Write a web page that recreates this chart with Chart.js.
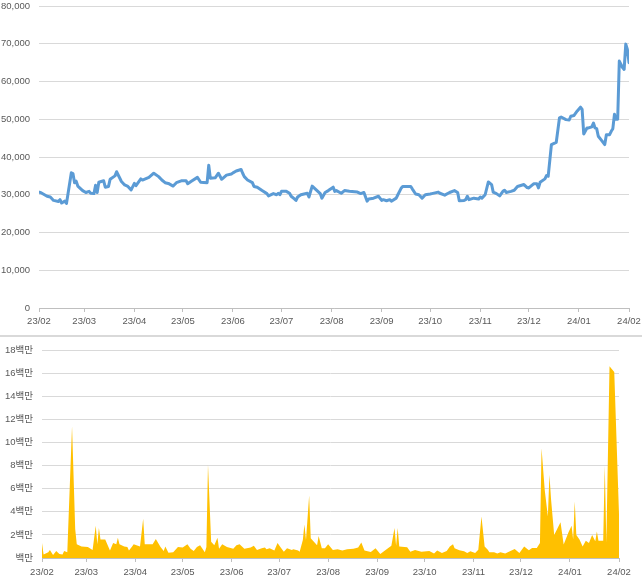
<!DOCTYPE html>
<html>
<head>
<meta charset="utf-8">
<script src="https://cdn.jsdelivr.net/npm/chart.js@4"></script>
<style>
  html, body { margin: 0; padding: 0; background: #fff; }
  #wrap { width: 642px; height: 583px; overflow: hidden; }
  canvas { display: block; }
  .sep { height: 2px; background: #d9d9d9; }
</style>
</head>
<body>
<div id="wrap">
  <canvas id="priceChart" width="642" height="335"></canvas>
  <div class="sep"></div>
  <canvas id="volumeChart" width="642" height="246"></canvas>
</div>
<script>
// 월 눈금
const monthStarts = ['2023-02-01', '2023-03-01', '2023-04-01', '2023-05-01', '2023-06-01', '2023-07-01',
    '2023-08-01', '2023-09-01', '2023-10-01', '2023-11-01', '2023-12-01', '2024-01-01', '2024-02-01'];
const monthLabels = ['23/02', '23/03', '23/04', '23/05', '23/06', '23/07',
    '23/08', '23/09', '23/10', '23/11', '23/12', '24/01', '24/02'];

// 종가
const priceDates = [
    '2023-02-01', '2023-02-02', '2023-02-06', '2023-02-08', '2023-02-10', '2023-02-13', '2023-02-14', '2023-02-15',
    '2023-02-17', '2023-02-18', '2023-02-21', '2023-02-22', '2023-02-23', '2023-02-24', '2023-02-25', '2023-02-28',
    '2023-03-02', '2023-03-04', '2023-03-05', '2023-03-07', '2023-03-08', '2023-03-09', '2023-03-10', '2023-03-13',
    '2023-03-14', '2023-03-16', '2023-03-17', '2023-03-20', '2023-03-21', '2023-03-24', '2023-03-26', '2023-03-28',
    '2023-03-30', '2023-04-01', '2023-04-02', '2023-04-05', '2023-04-06', '2023-04-10', '2023-04-13', '2023-04-16',
    '2023-04-18', '2023-04-20', '2023-04-22', '2023-04-25', '2023-04-27', '2023-04-30', '2023-05-03', '2023-05-04',
    '2023-05-06', '2023-05-10', '2023-05-12', '2023-05-16', '2023-05-17', '2023-05-18', '2023-05-21', '2023-05-23',
    '2023-05-25', '2023-05-28', '2023-05-31', '2023-06-01', '2023-06-03', '2023-06-06', '2023-06-07', '2023-06-08',
    '2023-06-10', '2023-06-13', '2023-06-14', '2023-06-16', '2023-06-19', '2023-06-22', '2023-06-23', '2023-06-26',
    '2023-06-28', '2023-06-29', '2023-06-30', '2023-07-01', '2023-07-04', '2023-07-06', '2023-07-07', '2023-07-09',
    '2023-07-10', '2023-07-11', '2023-07-13', '2023-07-15', '2023-07-17', '2023-07-18', '2023-07-20', '2023-07-22',
    '2023-07-25', '2023-07-26', '2023-07-28', '2023-07-30', '2023-08-02', '2023-08-03', '2023-08-04', '2023-08-07',
    '2023-08-09', '2023-08-12', '2023-08-17', '2023-08-19', '2023-08-21', '2023-08-23', '2023-08-24', '2023-08-27',
    '2023-08-30', '2023-09-01', '2023-09-02', '2023-09-04', '2023-09-06', '2023-09-07', '2023-09-10', '2023-09-11',
    '2023-09-13', '2023-09-14', '2023-09-19', '2023-09-20', '2023-09-22', '2023-09-24', '2023-09-26', '2023-09-28',
    '2023-10-01', '2023-10-02', '2023-10-06', '2023-10-07', '2023-10-10', '2023-10-13', '2023-10-16', '2023-10-18',
    '2023-10-19', '2023-10-22', '2023-10-23', '2023-10-24', '2023-10-25', '2023-10-28', '2023-10-31', '2023-11-01',
    '2023-11-02', '2023-11-04', '2023-11-06', '2023-11-08', '2023-11-09', '2023-11-11', '2023-11-13', '2023-11-15',
    '2023-11-16', '2023-11-17', '2023-11-20', '2023-11-22', '2023-11-24', '2023-11-28', '2023-11-30', '2023-12-01',
    '2023-12-04', '2023-12-06', '2023-12-07', '2023-12-08', '2023-12-11', '2023-12-12', '2023-12-13', '2023-12-15',
    '2023-12-17', '2023-12-18', '2023-12-20', '2023-12-21', '2023-12-24', '2023-12-26', '2023-12-27', '2023-12-29',
    '2023-12-31', '2024-01-02', '2024-01-03', '2024-01-04', '2024-01-06', '2024-01-07', '2024-01-09', '2024-01-10',
    '2024-01-11', '2024-01-12', '2024-01-13', '2024-01-15', '2024-01-17', '2024-01-18', '2024-01-20', '2024-01-21',
    '2024-01-22', '2024-01-23', '2024-01-24', '2024-01-25', '2024-01-26', '2024-01-28', '2024-01-29', '2024-01-30',
    '2024-01-31', '2024-02-01'
];
const priceValues = [
    30700, 30600, 29600, 29400, 28500, 28200, 28700, 27800,
    28300, 27700, 35800, 35600, 33200, 33600, 32300, 31100,
    30600, 30900, 30400, 30300, 32500, 30600, 33300, 33700,
    32000, 32200, 34100, 35000, 36100, 33500, 32600, 32200,
    31300, 33000, 32400, 34200, 33900, 34600, 35700, 34800,
    33900, 33200, 33000, 32300, 33200, 33700, 33700, 32900,
    33500, 34600, 33300, 33200, 37800, 34400, 34500, 35700,
    34100, 35200, 35500, 35800, 36300, 36700, 35700, 34800,
    33900, 33200, 32200, 32000, 31100, 30300, 29700, 30300,
    30000, 30400, 30000, 30900, 30900, 30400, 29600, 28900,
    28500, 29400, 30000, 30200, 30400, 29400, 32300, 31500,
    30300, 29100, 30600, 31100, 32000, 30900, 31100, 30400,
    31100, 30900, 30700, 30300, 30600, 28300, 28900, 29100,
    29600, 28500, 28700, 28400, 28700, 28300, 29100, 30000,
    31700, 32200, 32200, 31500, 30200, 30000, 29100, 30000,
    30200, 30300, 30700, 30400, 29900, 30600, 31100, 30600,
    28400, 28500, 28700, 29600, 28700, 29100, 28900, 29400,
    29100, 30000, 33400, 32700, 30700, 30300, 29700, 30900,
    31200, 30600, 30900, 31200, 32200, 32700, 31900, 31800,
    32900, 32900, 31800, 33300, 34200, 35100, 34900, 43300,
    43700, 43900, 50400, 50600, 49900, 49800, 50800, 51000,
    52200, 53200, 52600, 46100, 47700, 47700, 48000, 49000,
    47700, 47500, 45500, 44400, 43300, 45900, 45900, 46800,
    47500, 51300, 50000, 50000, 65400, 63700, 63200, 69900,
    68500, 65000
];

// 거래량
const volumeDates = [
    '2023-02-01', '2023-02-02', '2023-02-05', '2023-02-06', '2023-02-08', '2023-02-10', '2023-02-12', '2023-02-14',
    '2023-02-15', '2023-02-17', '2023-02-20', '2023-02-22', '2023-02-23', '2023-02-26', '2023-03-02', '2023-03-05',
    '2023-03-07', '2023-03-08', '2023-03-09', '2023-03-10', '2023-03-13', '2023-03-16', '2023-03-18', '2023-03-20',
    '2023-03-21', '2023-03-22', '2023-03-25', '2023-03-27', '2023-03-28', '2023-03-30', '2023-03-31', '2023-04-04',
    '2023-04-06', '2023-04-07', '2023-04-10', '2023-04-12', '2023-04-14', '2023-04-17', '2023-04-19', '2023-04-20',
    '2023-04-22', '2023-04-25', '2023-04-28', '2023-05-01', '2023-05-04', '2023-05-06', '2023-05-08', '2023-05-10',
    '2023-05-12', '2023-05-15', '2023-05-16', '2023-05-17', '2023-05-19', '2023-05-21', '2023-05-23', '2023-05-24',
    '2023-05-26', '2023-05-29', '2023-06-02', '2023-06-04', '2023-06-06', '2023-06-09', '2023-06-13', '2023-06-15',
    '2023-06-17', '2023-06-20', '2023-06-22', '2023-06-23', '2023-06-25', '2023-06-28', '2023-06-30', '2023-07-02',
    '2023-07-04', '2023-07-06', '2023-07-09', '2023-07-10', '2023-07-13', '2023-07-14', '2023-07-16', '2023-07-17',
    '2023-07-18', '2023-07-20', '2023-07-21', '2023-07-23', '2023-07-25', '2023-07-26', '2023-07-28', '2023-07-30',
    '2023-08-01', '2023-08-04', '2023-08-07', '2023-08-10', '2023-08-13', '2023-08-17', '2023-08-20', '2023-08-22',
    '2023-08-24', '2023-08-28', '2023-08-31', '2023-09-03', '2023-09-07', '2023-09-10', '2023-09-12', '2023-09-13',
    '2023-09-14', '2023-09-15', '2023-09-20', '2023-09-22', '2023-09-25', '2023-09-29', '2023-10-04', '2023-10-07',
    '2023-10-09', '2023-10-12', '2023-10-15', '2023-10-17', '2023-10-19', '2023-10-20', '2023-10-23', '2023-10-26',
    '2023-10-28', '2023-10-30', '2023-11-02', '2023-11-04', '2023-11-06', '2023-11-08', '2023-11-10', '2023-11-11',
    '2023-11-14', '2023-11-16', '2023-11-18', '2023-11-21', '2023-11-24', '2023-11-27', '2023-11-30', '2023-12-03',
    '2023-12-06', '2023-12-08', '2023-12-11', '2023-12-13', '2023-12-14', '2023-12-16', '2023-12-18', '2023-12-19',
    '2023-12-20', '2023-12-22', '2023-12-26', '2023-12-28', '2023-12-31', '2024-01-02', '2024-01-03', '2024-01-04',
    '2024-01-05', '2024-01-07', '2024-01-09', '2024-01-11', '2024-01-13', '2024-01-15', '2024-01-17', '2024-01-18',
    '2024-01-19', '2024-01-22', '2024-01-23', '2024-01-24', '2024-01-26', '2024-01-29', '2024-02-01'
];
// 단위: 백만 주
const volumeValues = [
    1.3, 0.3, 0.5, 0.7, 0.25, 0.6, 0.35, 0.3,
    0.6, 0.5, 11.4, 2.5, 1.2, 1.0, 0.95, 0.7,
    2.8, 1.2, 2.6, 1.6, 1.6, 0.65, 1.3, 1.2,
    1.75, 1.2, 1.0, 0.95, 0.65, 1.0, 1.2, 1.0,
    3.4, 1.2, 1.2, 1.2, 1.65, 0.95, 0.6, 1.0,
    0.45, 0.5, 0.95, 0.9, 1.2, 0.8, 0.6, 0.95,
    1.1, 0.5, 0.95, 8.1, 1.4, 1.1, 1.75, 0.8,
    1.2, 0.95, 0.8, 1.1, 1.2, 0.8, 0.9, 1.05,
    0.7, 0.85, 0.9, 0.75, 0.85, 0.65, 1.3, 0.9,
    0.55, 0.85, 0.7, 0.75, 0.65, 0.55, 1.55, 2.9,
    1.55, 5.4, 1.7, 1.4, 1.1, 1.9, 0.85, 0.85,
    1.2, 0.7, 0.75, 0.65, 0.75, 0.8, 0.9, 1.35,
    0.65, 0.52, 0.85, 0.35, 0.75, 1.05, 2.6, 1.05,
    2.6, 1.0, 0.93, 0.55, 0.7, 0.55, 0.6, 0.38,
    0.64, 0.43, 0.6, 1.0, 1.2, 0.84, 0.66, 0.58,
    0.43, 0.58, 0.43, 0.72, 3.6, 1.0, 0.72, 0.5,
    0.5, 0.38, 0.5, 0.38, 0.58, 0.78, 0.43, 1.0,
    0.66, 0.87, 0.87, 1.3, 9.5, 5.9, 3.6, 7.2,
    5.1, 2.0, 3.1, 1.16, 2.2, 2.8, 1.6, 4.9,
    2.0, 1.6, 1.0, 1.5, 1.3, 2.0, 1.45, 2.3,
    1.5, 1.5, 8.0, 1.3, 16.6, 16.1, 3.8
];

const day0 = Date.UTC(2023, 1, 1);
function dayOf(s) {
    const [y, m, d] = s.split('-').map(Number);
    return (Date.UTC(y, m - 1, d) - day0) / 864e5;
}
const tickDays = monthStarts.map(dayOf);
const lastDay = tickDays[tickDays.length - 1];

const FONT = { family: '"Liberation Sans", "Noto Sans CJK KR", sans-serif', size: 9.5 };
const TEXT = '#595959';
const GRID = '#d9d9d9';
const AXIS = '#bfbfbf';

function monthAxis(height, pad, rightGap) {
    return {
        type: 'linear',
        min: 0,
        max: lastDay,
        grid: { display: true, drawOnChartArea: false, color: AXIS, tickLength: 4 },
        border: { display: true, color: AXIS },
        ticks: {
            autoSkip: false, maxRotation: 0, color: TEXT, font: FONT, padding: pad,
            callback: v => monthLabels[tickDays.indexOf(v)] ?? ''
        },
        afterBuildTicks: s => { s.ticks = tickDays.map(v => ({ value: v })); },
        afterFit: s => { s.height = height; s.paddingRight = rightGap; }
    };
}

function valueAxis(max, step, width, topGap, fmt) {
    return {
        min: 0, max: max,
        grid: { color: GRID, drawTicks: false },
        border: { display: false },
        ticks: { stepSize: step, color: TEXT, font: FONT, padding: 9, callback: fmt },
        afterFit: s => { s.width = width; s.paddingTop = topGap; s.paddingBottom = 0; }
    };
}

const common = {
    responsive: false,
    animation: false,
    devicePixelRatio: 1,
    layout: { padding: 0 },
    plugins: { legend: { display: false }, tooltip: { enabled: false } },
    elements: { point: { radius: 0 } }
};

new Chart(document.getElementById('priceChart'), {
    type: 'line',
    data: {
        datasets: [{
            data: priceDates.map((d, i) => ({ x: dayOf(d), y: priceValues[i] })),
            borderColor: '#5b9bd5',
            borderWidth: 3,
            borderJoinStyle: 'round',
            borderCapStyle: 'round',
            tension: 0,
            fill: false
        }]
    },
    options: {
        ...common,
        scales: {
            x: monthAxis(27, 4, 13),
            y: valueAxis(80000, 10000, 39, 6, v => v.toLocaleString('en-US'))
        }
    }
});

new Chart(document.getElementById('volumeChart'), {
    type: 'line',
    data: {
        datasets: [{
            data: volumeDates.map((d, i) => ({ x: dayOf(d), y: volumeValues[i] * 1e6 })),
            borderWidth: 0,
            borderColor: '#ffc000',
            backgroundColor: '#ffc000',
            tension: 0,
            fill: 'origin'
        }]
    },
    options: {
        ...common,
        scales: {
            x: monthAxis(25, 5, 23),
            y: valueAxis(18e6, 2e6, 42, 13, v => v === 0 ? '백만' : (v / 1e6) + '백만')
        }
    }
});
</script>
</body>
</html>
